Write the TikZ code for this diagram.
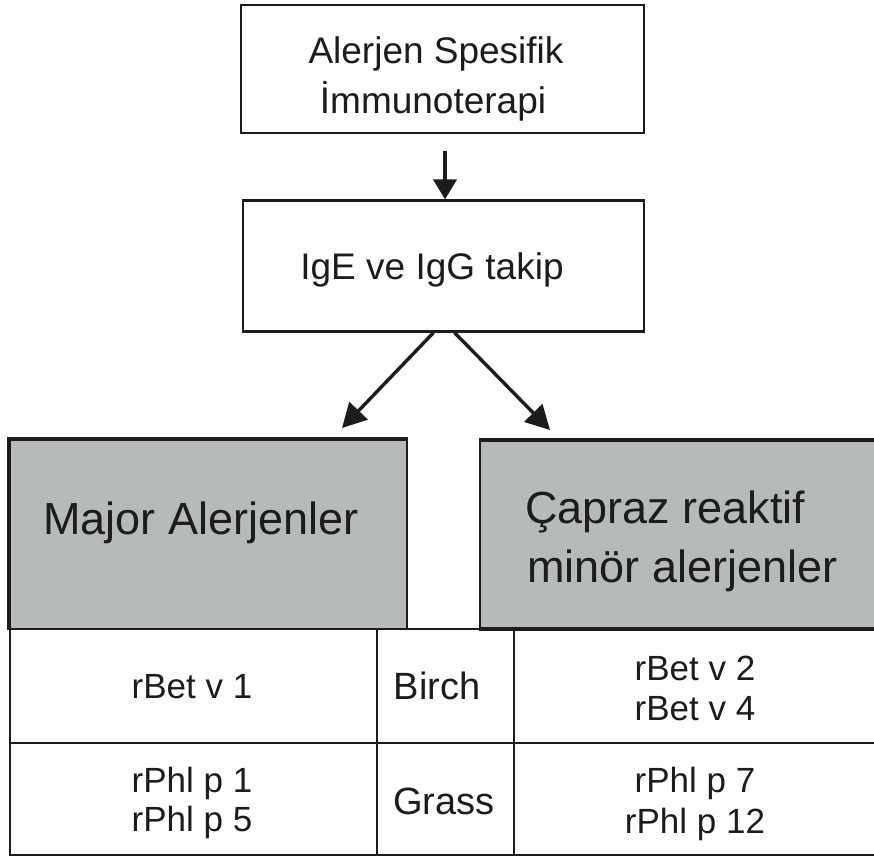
\documentclass[tikz,border=0pt]{standalone}
\usepackage{fontspec}
\setmainfont{Liberation Sans}
\usetikzlibrary{arrows.meta,calc}

\definecolor{boxgray}{RGB}{183,186,187}
\definecolor{ink}{RGB}{28,28,30}

\begin{document}
\begin{tikzpicture}[x=1pt,y=-1pt,
  flowbox/.style={draw=ink, line width=2.2pt, fill=white, inner sep=0pt},
  graybox/.style={draw=ink, line width=1.6pt, fill=boxgray, inner sep=0pt},
  heavy/.style={draw=ink, line width=3.6pt},
  grid/.style={draw=ink, line width=1.5pt},
  flowtxt/.style={font=\fontsize{37}{44}\selectfont, inner sep=0pt, anchor=base, text=ink},
  headtxt/.style={font=\fontsize{45}{54}\selectfont, inner sep=0pt, anchor=base west, text=ink},
  celltxt/.style={font=\fontsize{35}{42}\selectfont, inner sep=0pt, anchor=base, text=ink},
  sourcetxt/.style={font=\fontsize{38}{46}\selectfont, inner sep=0pt, anchor=base, text=ink},
  downarr/.style={draw=ink, line width=4.2pt, -{Triangle[length=20pt,width=23pt]}},
  diagarr/.style={draw=ink, line width=3.4pt, -{Triangle[length=24pt,width=25pt]}}
]
\useasboundingbox (0,0) rectangle (874,857);

% flow boxes
\node[flowbox, minimum width=403pt, minimum height=128pt] (asit) at (442.5,69) {};
\node[flowbox, minimum width=401pt, minimum height=131pt] (follow) at (443.5,266) {};

\node[flowtxt] (asitA) at (436,63) {Alerjen Spesifik};
\node[flowtxt] (asitB) at (433,113) {İmmunoterapi};
\node[flowtxt] (followT) at (432,279) {IgE ve IgG takip};

% allergen group boxes
\node[graybox, minimum width=397pt, minimum height=189pt] (major) at (208.5,534.5) {};
\node[graybox, minimum width=404pt, minimum height=187pt] (cross) at (682,534.5) {};
\draw[heavy] (major.south west) -- (major.north west) -- (major.north east);
\draw[heavy] (cross.north west) -- (cross.north east);
\draw[heavy] (cross.south west) -- (cross.south east);

\node[headtxt] (majorT) at (43,534) {Major Alerjenler};
\node[headtxt] (crossA) at (525,523) {Çapraz reaktif};
\node[headtxt] (crossB) at (527,582) {minör alerjenler};

% arrows
\draw[downarr, shorten <=17pt] (asit.south -| 445,0) -- (follow.north -| 445,0);
\coordinate (tipL) at (342,428);
\coordinate (tipR) at (550,430);
\draw[diagarr] ($(follow.south)+(-10,0)$) -- (tipL);
\draw[diagarr] ($(follow.south)+(11,0)$) -- (tipR);

% source table
\draw[grid] (884,629) -- (10,629) -- (10,855) -- (884,855);
\draw[grid] (10,743) -- (884,743);
\draw[grid] (377,629) -- (377,855);
\draw[grid] (514,629) -- (514,855);

\node[celltxt] (betA) at (192,698) {rBet v 1};
\node[sourcetxt] (birch) at (437,699) {Birch};
\node[celltxt] (betB) at (695,680) {rBet v 2};
\node[celltxt] (betC) at (695,720) {rBet v 4};

\node[celltxt] (phlA) at (192,792) {rPhl p 1};
\node[celltxt] (phlB) at (192,831) {rPhl p 5};
\node[sourcetxt] (grass) at (444,814) {Grass};
\node[celltxt] (phlC) at (695,792) {rPhl p 7};
\node[celltxt] (phlD) at (695,833) {rPhl p 12};
\end{tikzpicture}
\end{document}
